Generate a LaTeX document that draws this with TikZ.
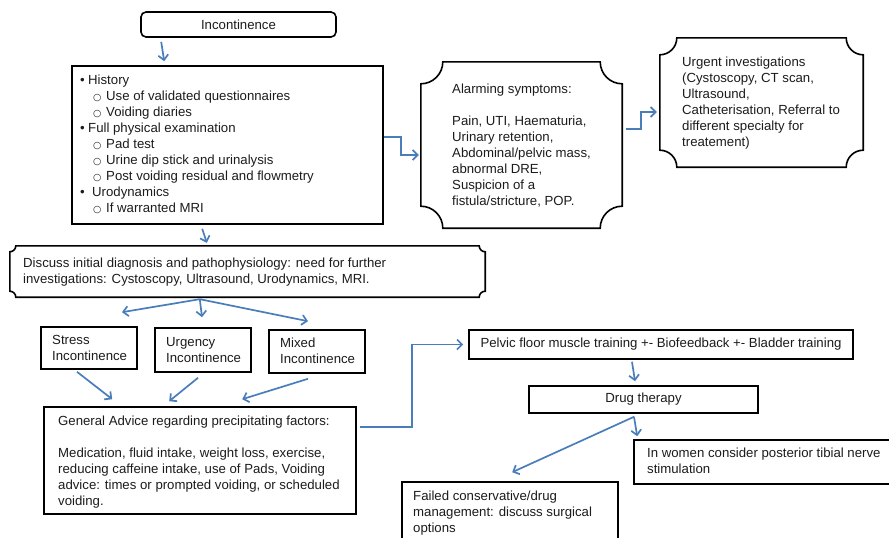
\documentclass[tikz,border=0pt]{standalone}
\usepackage{fontspec}
\setmainfont{Liberation Sans}
\newfontfamily\dejavu{DejaVu Sans}
\usetikzlibrary{arrows.meta,calc}
\definecolor{txtc}{RGB}{30,27,28}
\definecolor{arrc}{RGB}{74,126,187}
\newcommand{\subbul}{{\dejavu\fontsize{9.5}{9.5}\selectfont ○}}
\newcommand{\concavebox}[2]{\draw[boxline] let \p1=(#1.north west), \p2=(#1.south east) in
  (\x1+#2,\y1) -- (\x2-#2,\y1) arc[start angle=180,end angle=270,radius=#2]
  -- (\x2,\y2+#2) arc[start angle=90,end angle=180,radius=#2]
  -- (\x1+#2,\y2) arc[start angle=0,end angle=90,radius=#2]
  -- (\x1,\y1-#2) arc[start angle=270,end angle=360,radius=#2] -- cycle;}
\begin{document}
\begin{tikzpicture}[x=1pt,y=-1pt,
  box/.style={draw=black, line width=1.6pt, rectangle, inner sep=0pt, text=txtc, font=\fontsize{13.2}{16}\selectfont},
  ghost/.style={rectangle, inner sep=0pt},
  txt/.style={text=txtc, font=\fontsize{13.2}{16}\selectfont, inner sep=0pt, align=left, anchor=north west},
  arr/.style={draw=arrc, line width=1.7pt, -{Straight Barb[length=5pt,width=10pt]}},
  boxline/.style={draw=black, line width=1.6pt}]
\clip (0,0) rectangle (889,538);
\fill[white] (0,0) rectangle (889,538);
% boxes
\node[box, rounded corners=5pt, minimum width=195pt, minimum height=25pt] (inc) at (238.5,24.5) {Incontinence};
\node[box, minimum width=311pt, minimum height=158pt] (hist) at (227.5,145) {};
\node[ghost, minimum width=201pt, minimum height=166pt] (alarm) at (521.5,145) {};
\concavebox{alarm}{22pt}
\node[ghost, minimum width=203pt, minimum height=129pt] (urg) at (761.5,102.5) {};
\concavebox{urg}{17pt}
\node[ghost, minimum width=475pt, minimum height=51pt] (disc) at (247.5,271.5) {};
\concavebox{disc}{6pt}
\node[box, minimum width=96pt, minimum height=42pt] (stress) at (89,348) {};
\node[box, minimum width=96pt, minimum height=44pt] (urgency) at (203,350) {};
\node[box, minimum width=96pt, minimum height=43pt] (mixed) at (317,351.5) {};
\node[box, minimum width=312pt, minimum height=107pt] (ga) at (200,460.5) {};
\node[box, minimum width=384pt, minimum height=29pt] (pelvic) at (661,344.5) {Pelvic floor muscle training +- Biofeedback +- Bladder training};
\node[box, minimum width=229pt, minimum height=27pt] (drug) at (643.5,399.5) {Drug therapy};
\node[box, minimum width=270pt, minimum height=44pt] (women) at (769,462) {};
\node[box, minimum width=216pt, minimum height=70pt] (failed) at (510,517) {};
% texts
\node[txt] (tHist) at (80,73) {\strut\makebox[8pt][l]{•}History\\
\hspace{13pt}\makebox[13pt][l]{\subbul}Use of validated questionnaires\\
\hspace{13pt}\makebox[13pt][l]{\subbul}Voiding diaries\\
\makebox[8pt][l]{•}Full physical examination\\
\hspace{13pt}\makebox[13pt][l]{\subbul}Pad test\\
\hspace{13pt}\makebox[13pt][l]{\subbul}Urine dip stick and urinalysis\\
\hspace{13pt}\makebox[13pt][l]{\subbul}Post voiding residual and flowmetry\\
\makebox[12pt][l]{•}Urodynamics\\
\hspace{13pt}\makebox[13pt][l]{\subbul}If warranted MRI};
\node[txt] (tAlarm) at (452,82) {\strut Alarming symptoms:\\ ~\\ Pain, UTI, Haematuria,\\ Urinary retention,\\ Abdominal/pelvic mass,\\ abnormal DRE,\\ Suspicion of a\\ fistula/stricture, POP.};
\node[txt] (tUrg) at (682,55) {\strut Urgent investigations\\ (Cystoscopy, CT scan,\\ Ultrasound,\\ Catheterisation, Referral to\\ different specialty for\\ treatement)};
\node[txt] (tDisc) at (23,256) {\strut Discuss initial diagnosis and pathophysiology: need for further\\ investigations: Cystoscopy, Ultrasound, Urodynamics, MRI.};
\node[txt] (tStress) at (52,333) {\strut Stress\\ Incontinence};
\node[txt] (tUrgency) at (166,335) {\strut Urgency\\ Incontinence};
\node[txt] (tMixed) at (280,336) {\strut Mixed\\ Incontinence};
\node[txt] (tGa) at (58,414) {\strut General Advice regarding precipitating factors:\\ ~\\ Medication, fluid intake, weight loss, exercise,\\ reducing caffeine intake, use of Pads, Voiding\\ advice: times or prompted voiding, or scheduled\\ voiding.};
\node[txt] (tWomen) at (647,446) {\strut In women consider posterior tibial nerve\\ stimulation};
\node[txt] (tFailed) at (413,489) {\strut Failed conservative/drug\\ management: discuss surgical\\ options};
% connectors
\draw[arr] ([xshift=21pt,yshift=-4pt]inc.south west) -- ([xshift=93pt,yshift=4pt]hist.north west);
\draw[arr] ([yshift=8pt]hist.east) -- ++(17,0) |- ([xshift=-2pt,yshift=-10pt]alarm.west);
\draw[arr] ([xshift=4pt,yshift=16pt]alarm.east) -- ++(15,0) |- ([xshift=-3pt,yshift=-9.5pt]urg.west);
\draw[arr] ([xshift=131pt,yshift=-4pt]hist.south west) -- ([xshift=197pt,yshift=3pt]disc.north west);
\coordinate (dsplit) at ([xshift=190pt,yshift=-2pt]disc.south west);
\draw[arr] (dsplit) -- ([xshift=33pt,yshift=14pt]stress.north);
\draw[arr] (dsplit) -- ([xshift=-1pt,yshift=10pt]urgency.north);
\draw[arr] (dsplit) -- ([xshift=-9pt,yshift=8pt]mixed.north);
\draw[arr] ([xshift=-12pt,yshift=-2pt]stress.south) -- ([xshift=69pt,yshift=7pt]ga.north west);
\draw[arr] ([xshift=-5pt,yshift=-5pt]urgency.south) -- ([xshift=126pt,yshift=5pt]ga.north west);
\draw[arr] ([xshift=-9pt,yshift=-5pt]mixed.south) -- ([xshift=199pt,yshift=7pt]ga.north west);
\draw[arr] ([xshift=3pt,yshift=-21pt]ga.north east) -- ++(52,0) |- ([xshift=-5pt]pelvic.west);
\draw[arr] ([xshift=-29pt,yshift=-2pt]pelvic.south) -- ([xshift=-8.5pt,yshift=4pt]drug.north);
\coordinate (drsplit) at ([xshift=-9.5pt,yshift=-3pt]drug.south);
\draw[arr] (drsplit) -- ([xshift=4pt,yshift=3pt]women.north west);
\draw[arr] (drsplit) -- ([xshift=111pt,yshift=9pt]failed.north west);
\end{tikzpicture}
\end{document}
